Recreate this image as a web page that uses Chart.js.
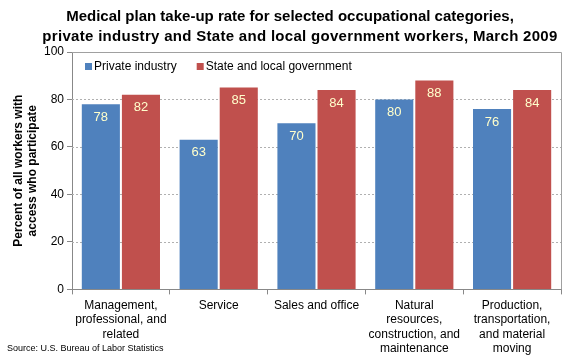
<!DOCTYPE html>
<html>
<head>
<meta charset="utf-8">
<script src="https://cdn.jsdelivr.net/npm/chart.js@4.4.1/dist/chart.umd.min.js"></script>
<style>
  html, body { margin: 0; padding: 0; background: #fff; }
  #wrap { width: 580px; height: 360px; position: relative; }
</style>
</head>
<body>
<div id="wrap"><canvas id="chart" width="580" height="360"></canvas></div>
<script>
'use strict';

// ── DATA ─────────────────────────────────────────────────────
const CATEGORIES = [
  ['Management,', 'professional, and', 'related'],
  ['Service'],
  ['Sales and office'],
  ['Natural', 'resources,', 'construction, and', 'maintenance'],
  ['Production,', 'transportation,', 'and material', 'moving']
];
const PRIVATE = [78, 63, 70, 80, 76];
const GOVT    = [82, 85, 84, 88, 84];
const Y_TICKS = [0, 20, 40, 60, 80, 100];

const TITLE = [
  'Medical plan take-up rate for selected occupational categories,',
  'private industry and State and local government workers, March 2009'
];
const SOURCE = 'Source: U.S. Bureau of Labor Statistics';

const BLUE = '#4f81bd';
const RED  = '#c0504d';
const FONT = 'Arial, "Liberation Sans", sans-serif';

// ── PLUGINS ──────────────────────────────────────────────────
const decor = {
  id: 'decor',
  beforeDatasetsDraw(chart) {
    const { ctx, chartArea: a, scales: { y } } = chart;
    ctx.save();
    // dotted gridlines
    ctx.strokeStyle = '#b0b0b0';
    ctx.lineWidth = 1;
    ctx.setLineDash([2, 2]);
    Y_TICKS.slice(1, -1).forEach(v => {
      const py = Math.round(y.getPixelForValue(v)) + 0.5;
      ctx.beginPath();
      ctx.moveTo(a.left, py);
      ctx.lineTo(a.right, py);
      ctx.stroke();
    });
    ctx.setLineDash([]);
    // top / right frame
    ctx.strokeStyle = '#a0a0a0';
    ctx.beginPath();
    ctx.moveTo(a.left, Math.round(a.top) + 0.5);
    ctx.lineTo(Math.round(a.right) + 0.5, Math.round(a.top) + 0.5);
    ctx.lineTo(Math.round(a.right) + 0.5, a.bottom);
    ctx.stroke();
    ctx.restore();
  },
  afterDatasetsDraw(chart) {
    const { ctx, chartArea: a } = chart;
    ctx.save();
    // value labels
    ctx.fillStyle = '#ffffcc';
    ctx.font = '13px ' + FONT;
    ctx.textAlign = 'center';
    ctx.textBaseline = 'middle';
    chart.data.datasets.forEach((ds, di) => {
      chart.getDatasetMeta(di).data.forEach((bar, i) => {
        ctx.fillText(String(ds.data[i]), bar.x, bar.y + 13);
      });
    });
    // legend inside plot
    ctx.font = '12px ' + FONT;
    ctx.textAlign = 'left';
    let lx = a.left + 13;
    const ly = a.top + 15;
    chart.data.datasets.forEach(ds => {
      ctx.fillStyle = ds.backgroundColor;
      ctx.fillRect(lx, ly - 4, 7, 7);
      ctx.fillStyle = '#000';
      ctx.fillText(ds.label, lx + 9, ly);
      lx += 9 + ctx.measureText(ds.label).width + 20;
    });
    // title
    ctx.font = 'bold 15px ' + FONT;
    ctx.textAlign = 'center';
    ctx.fillStyle = '#000';
    ctx.fillText(TITLE[0], 290, 17);
    ctx.letterSpacing = '0.3px';
    ctx.fillText(TITLE[1], 300, 37);
    ctx.letterSpacing = '0px';
    // source
    ctx.font = '9px ' + FONT;
    ctx.textAlign = 'left';
    ctx.fillText(SOURCE, 7, 349);
    ctx.restore();
  }
};

// ── CHART ────────────────────────────────────────────────────
new Chart(document.getElementById('chart'), {
  type: 'bar',
  data: {
    labels: CATEGORIES,
    datasets: [
      { label: 'Private industry', data: PRIVATE, backgroundColor: BLUE },
      { label: 'State and local government', data: GOVT, backgroundColor: RED }
    ]
  },
  options: {
    responsive: false,
    animation: false,
    categoryPercentage: 0.82,
    barPercentage: 0.95,
    layout: { padding: { top: 52, right: 19, left: 11, bottom: 0 } },
    plugins: {
      legend: { display: false },
      title: { display: false },
      tooltip: { enabled: false }
    },
    scales: {
      x: {
        grid: { drawOnChartArea: false, tickLength: 5, color: '#888', offset: true },
        border: { color: '#888' },
        ticks: { color: '#000', font: { family: FONT, size: 12 }, padding: 4, maxRotation: 0, autoSkip: false }
      },
      y: {
        min: 0, max: 100,
        afterBuildTicks: s => { s.ticks = Y_TICKS.map(v => ({ value: v })); },
        afterFit: s => { s.width = 61; },
        grid: { drawOnChartArea: false, tickLength: 5, color: '#888' },
        border: { color: '#888' },
        ticks: { color: '#000', font: { family: FONT, size: 12 }, padding: 3 },
        title: {
          display: true,
          text: ['Percent of all workers with', 'access who participate'],
          color: '#000',
          font: { family: FONT, size: 12, weight: 'bold' },
          padding: 0
        }
      }
    }
  },
  plugins: [decor]
});
</script>
</body>
</html>
